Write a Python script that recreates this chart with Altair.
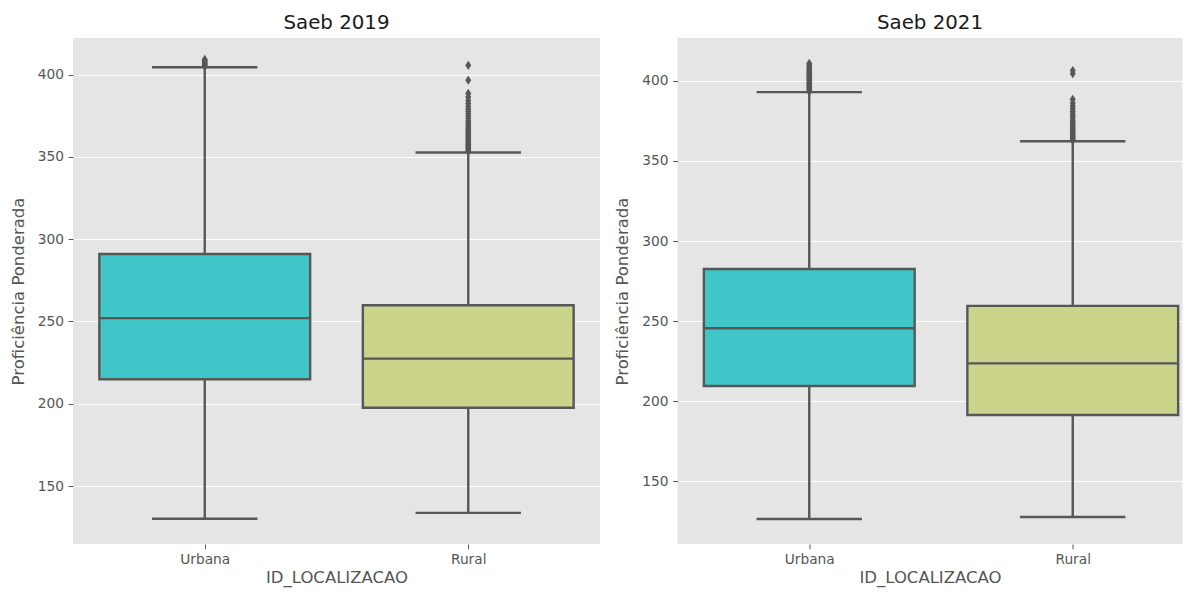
import altair as alt
import pandas as pd

panels = ["Saeb 2019", "Saeb 2021"]
categories = ["Urbana", "Rural"]
box_colors = ["#40C6C9", "#CCD38A"]

# summary statistics per panel (Urbana, Rural)
whisker_low = {"Saeb 2019": [130.1, 133.7], "Saeb 2021": [126.4, 127.7]}
q1 = {"Saeb 2019": [214.9, 197.6], "Saeb 2021": [209.5, 191.4]}
median = {"Saeb 2019": [252.0, 227.4], "Saeb 2021": [245.5, 223.6]}
q3 = {"Saeb 2019": [291.0, 259.8], "Saeb 2021": [282.5, 259.5]}
whisker_high = {"Saeb 2019": [404.4, 352.6], "Saeb 2021": [393.0, 362.3]}

outliers = {
    ("Saeb 2019", "Urbana"): [404.9, 405.4, 406.0, 406.6, 407.2, 407.8, 408.5, 409.2],
    ("Saeb 2019", "Rural"): [353.5, 354.2, 355.0, 355.8, 356.6, 357.5, 358.4, 359.3, 360.2,
                             361.1, 362.0, 363.0, 364.0, 365.0, 366.1, 367.2, 368.3, 369.5,
                             370.7, 372.0, 373.3, 374.7, 376.1, 377.6, 379.1, 380.7, 382.4,
                             384.2, 386.3, 388.5, 396.6, 405.6],
    ("Saeb 2021", "Urbana"): [393.5, 394.3, 395.1, 395.9, 396.7, 397.5, 398.3, 399.1, 399.9,
                              400.7, 401.5, 402.3, 403.1, 403.9, 404.7, 405.5, 406.3, 407.1,
                              408.0, 409.0, 410.0, 411.0],
    ("Saeb 2021", "Rural"): [362.8, 363.6, 364.4, 365.3, 366.2, 367.1, 368.0, 369.0, 370.0,
                             371.0, 372.1, 373.2, 374.3, 375.5, 376.8, 378.1, 379.5, 381.0,
                             382.6, 384.3, 386.2, 388.5, 404.5, 406.5],
}

y_domains = {"Saeb 2019": [114.8, 422.2], "Saeb 2021": [110.8, 426.8]}
y_ticks = [150, 200, 250, 300, 350, 400]

GRAY = "#575757"
FONT = "DejaVu Sans"
PW, PH = 527, 506
VIEW_W = {"Saeb 2019": 527, "Saeb 2021": 505}  # right panel is cut at the page edge
BAND = PW / 2
LW = 2.4

label_expr = "[" + ",".join("'%s'" % c for c in categories) + "][datum.value]"


def panel(name):
    stats = pd.DataFrame({
        "cat": categories,
        "pos": list(range(len(categories))),
        "low": whisker_low[name],
        "q1": q1[name],
        "med": median[name],
        "q3": q3[name],
        "high": whisker_high[name],
    })
    rows = []
    for i, c in enumerate(categories):
        for v in outliers[(name, c)]:
            rows.append({"cat": c, "pos": i, "v": v})
    out = pd.DataFrame(rows)

    xdom = [-0.5, -0.5 + VIEW_W[name] / BAND]
    xscale = alt.Scale(domain=xdom, nice=False, zero=False)
    xaxis = alt.Axis(values=list(range(len(categories))), labelExpr=label_expr,
                     grid=False, labelAngle=0)
    yscale = alt.Scale(domain=y_domains[name], nice=False, zero=False)
    yaxis = alt.Axis(values=y_ticks, grid=True)

    base = alt.Chart(stats).transform_calculate(
        box_l="datum.pos - 0.4", box_r="datum.pos + 0.4",
        cap_l="datum.pos - 0.2", cap_r="datum.pos + 0.2",
    )
    whisk = base.mark_rule(color=GRAY, strokeWidth=LW).encode(
        x=alt.X("pos:Q", scale=xscale, axis=xaxis, title="ID_LOCALIZACAO"),
        y=alt.Y("low:Q", scale=yscale, axis=yaxis, title="Proficiência Ponderada"),
        y2="high:Q",
    )
    box = base.mark_rect(stroke=GRAY, strokeWidth=LW, opacity=1).encode(
        x=alt.X("box_l:Q", scale=xscale),
        x2="box_r:Q",
        y=alt.Y("q1:Q", scale=yscale),
        y2="q3:Q",
        color=alt.Color("cat:N", scale=alt.Scale(domain=categories, range=box_colors),
                        legend=None),
    )
    med = base.mark_rule(color=GRAY, strokeWidth=LW).encode(
        x=alt.X("box_l:Q", scale=xscale), x2="box_r:Q",
        y=alt.Y("med:Q", scale=yscale))
    cap_lo = base.mark_rule(color=GRAY, strokeWidth=LW).encode(
        x=alt.X("cap_l:Q", scale=xscale), x2="cap_r:Q",
        y=alt.Y("low:Q", scale=yscale))
    cap_hi = base.mark_rule(color=GRAY, strokeWidth=LW).encode(
        x=alt.X("cap_l:Q", scale=xscale), x2="cap_r:Q",
        y=alt.Y("high:Q", scale=yscale))
    pts = alt.Chart(out).mark_point(
        shape="M0,-1L0.65,0L0,1L-0.65,0Z", filled=True, color=GRAY, size=85, opacity=1
    ).encode(x=alt.X("pos:Q", scale=xscale), y=alt.Y("v:Q", scale=yscale))

    return alt.layer(whisk, box, med, cap_lo, cap_hi, pts).properties(
        width=VIEW_W[name], height=PH,
        title=alt.TitleParams(name, fontSize=19.8, font=FONT, fontWeight="normal",
                              color="#1a1a1a", offset=5),
    )


chart = alt.hconcat(*[panel(p) for p in panels], spacing=14.5).configure(
    font=FONT,
    padding={"left": 2, "top": 5, "right": 0, "bottom": 3},
    background="white",
).configure_view(
    fill="#E5E5E5", stroke=None
).configure_axis(
    domain=False,
    gridColor="white",
    gridWidth=1.2,
    tickColor="#555555",
    tickSize=4.8,
    tickWidth=1,
    labelColor="#555555",
    labelFont=FONT,
    labelFontSize=13.75,
    titleFont=FONT,
    titleFontSize=16.5,
    titleFontWeight="normal",
    titleColor="#555555",
).configure_axisY(
    labelPadding=4.8,
    titlePadding=11,
).configure_axisX(
    labelPadding=4,
    titlePadding=2.5,
)

chart.save("out.html", embed_options={"renderer": "svg", "actions": False})
